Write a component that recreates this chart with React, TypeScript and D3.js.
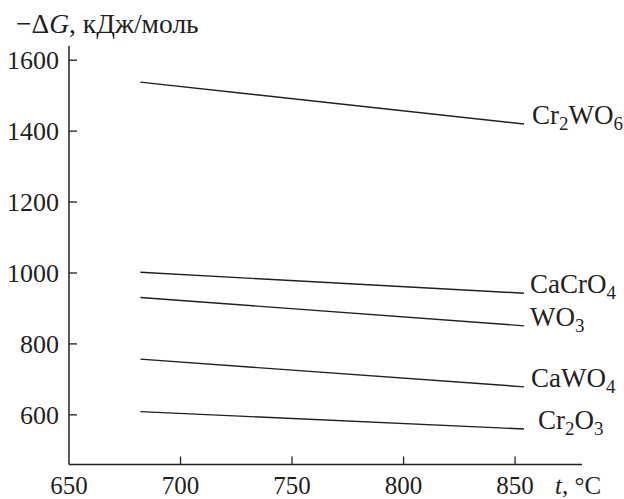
import React from "react";
import * as d3 from "d3";

const W = 624;
const H = 499;

const xStart = [682, 682, 682, 682, 682];
const xEnd = [854, 854, 854, 854, 854];
const seriesNames = ["Cr2WO6", "CaCrO4", "WO3", "CaWO4", "Cr2O3"];
const startValues = [1538, 1002, 931, 757, 609];
const endValues = [1420, 943, 851, 679, 560];
const xTicks = [650, 700, 750, 800, 850];
const yTicks = [600, 800, 1000, 1200, 1400, 1600];
const labelDx = [8, 6, 6, 7, 14];

// label parts: [text, isSub]
const labelParts: [string, boolean][][] = [
  [["Cr", false], ["2", true], ["WO", false], ["6", true]],
  [["CaCrO", false], ["4", true]],
  [["WO", false], ["3", true]],
  [["CaWO", false], ["4", true]],
  [["Cr", false], ["2", true], ["O", false], ["3", true]],
];

const FONT = "Liberation Serif, DejaVu Serif, serif";
const INK = "#231f20";

export default function App() {
  const x = d3.scaleLinear().domain([650, 880]).range([69, 582]);
  const y = d3.scaleLinear().domain([460, 1640]).range([464.5, 46]);
  const line = d3
    .line<[number, number]>()
    .x((d) => x(d[0]))
    .y((d) => y(d[1]));

  const x0 = x.range()[0];
  const y0 = y.range()[0];
  const ts = { fontFamily: FONT };

  return (
    <svg
      width={W}
      height={H}
      style={{ position: "absolute", left: 0, top: 0, background: "#fff", fontFamily: FONT }}
    >
      {/* axes */}
      <line x1={x0} y1={y.range()[1]} x2={x0} y2={y0} stroke={INK} strokeWidth={1.5} />
      <line x1={x0} y1={y0} x2={x.range()[1]} y2={y0} stroke={INK} strokeWidth={1.5} />
      {yTicks.map((t) => (
        <g key={"y" + t}>
          <line x1={x0} x2={x0 + 8} y1={y(t)} y2={y(t)} stroke={INK} strokeWidth={1.3} />
          <text x={x0 - 10} y={y(t)} dy="0.34em" textAnchor="end" fontSize={26} fill={INK} style={ts}>
            {t}
          </text>
        </g>
      ))}
      {xTicks.map((t) => (
        <g key={"x" + t}>
          {t !== 650 && (
            <line x1={x(t)} x2={x(t)} y1={y0} y2={y0 - 8} stroke={INK} strokeWidth={1.3} />
          )}
          <text x={x(t)} y={494} textAnchor="middle" fontSize={25} fill={INK} style={ts}>
            {t}
          </text>
        </g>
      ))}
      <text x={555} y={494} fontSize={25} fill={INK} style={ts}>
        <tspan fontStyle="italic">t</tspan>, °C
      </text>
      <text x={16} y={33} fontSize={27.5} fill={INK} style={ts}>
        −Δ<tspan fontStyle="italic">G</tspan>, кДж/моль
      </text>

      {/* series */}
      {seriesNames.map((name, i) => {
        const pts: [number, number][] = [
          [xStart[i], startValues[i]],
          [xEnd[i], endValues[i]],
        ];
        return (
          <g key={name}>
            <path d={line(pts) || ""} fill="none" stroke={INK} strokeWidth={1.4} />
            <text
              x={x(xEnd[i]) + labelDx[i]}
              y={y(endValues[i])}
              dy="0.36em"
              fontSize={27}
              fill={INK}
              style={ts}
            >
              {labelParts[i].map(([s, sub], k) =>
                sub ? (
                  <tspan key={k} fontSize={19} dy="0.3em">
                    {s}
                  </tspan>
                ) : (
                  <tspan key={k} dy={k === 0 ? 0 : "-0.2em"}>
                    {s}
                  </tspan>
                )
              )}
            </text>
          </g>
        );
      })}
    </svg>
  );
}
